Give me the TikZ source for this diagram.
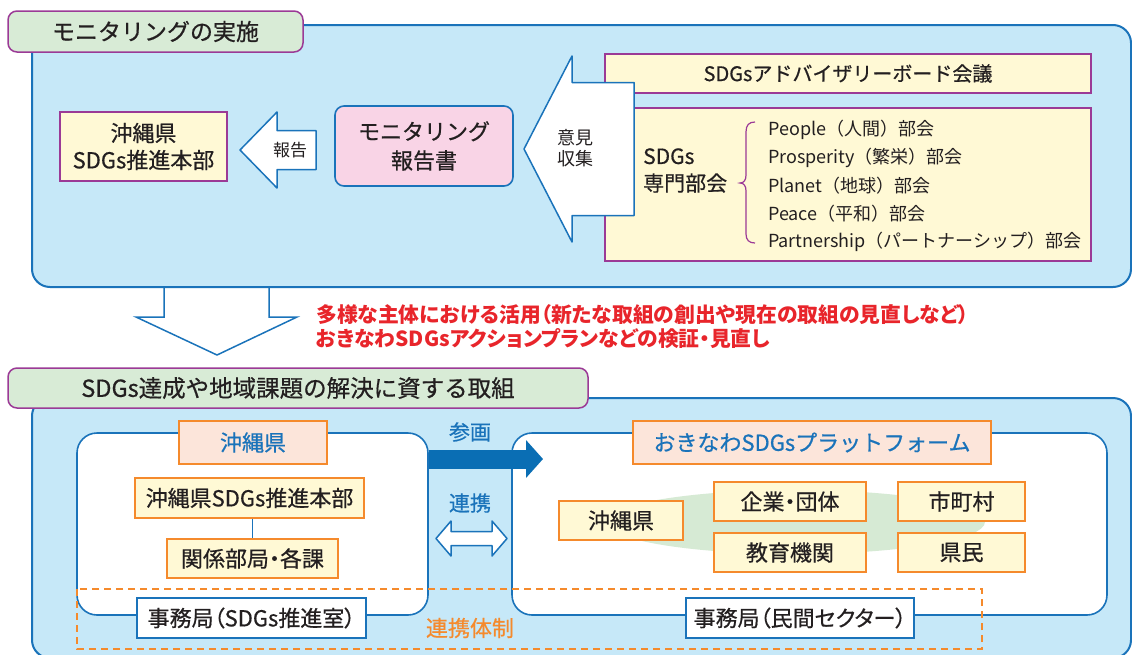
\documentclass[tikz,border=0pt]{standalone}
\usepackage{fontspec}
\setmainfont{Noto Sans CJK JP}
\newfontfamily\jpp[RawFeature=+palt]{Noto Sans CJK JP}
\newfontfamily\med[FakeBold=0.6]{Noto Sans CJK JP}
\newfontfamily\medp[FakeBold=0.6,RawFeature=+palt]{Noto Sans CJK JP}
\usetikzlibrary{arrows.meta}
\newcommand{\fz}[2]{\fontsize{#1}{#2}\selectfont}
\definecolor{panelbg}{HTML}{C6E8F8}
\definecolor{pblue}{HTML}{1A73BA}
\definecolor{dblue}{HTML}{0A6EB4}
\definecolor{ppurple}{HTML}{9B3A96}
\definecolor{tabgreen}{HTML}{D8EBD6}
\definecolor{lyellow}{HTML}{FFF9D5}
\definecolor{lpink}{HTML}{F9D4E6}
\definecolor{salmon}{HTML}{FCE5DA}
\definecolor{orng}{HTML}{F58A2C}
\definecolor{txt}{HTML}{231F20}
\definecolor{redtxt}{HTML}{E8252B}
\definecolor{leafgreen}{HTML}{D6EAD4}
\tikzset{
  panel/.style={draw=pblue, line width=2pt, fill=panelbg, rounded corners=18pt, inner sep=0pt},
  tab/.style={draw=ppurple, line width=1.5pt, fill=tabgreen, rounded corners=9pt, text=txt, inner sep=0pt},
  pbox/.style={draw=ppurple, line width=1.2pt, fill=lyellow, text=txt, inner sep=0pt, align=center},
  obox/.style={draw=orng, line width=1.3pt, fill=lyellow, text=txt, inner sep=0pt, font=\medp\fz{22}{26}},
  tbox/.style={draw=orng, line width=1.3pt, fill=salmon, text=pblue, inner sep=0pt, font=\med\fz{22}{26}},
  wbox/.style={draw=pblue, line width=1.6pt, fill=white, rounded corners=20pt, inner sep=0pt},
  sbox/.style={draw=pblue, line width=1.5pt, fill=white, text=txt, inner sep=0pt, font=\medp\fz{22}{26}},
  blockarrow/.style={draw=pblue, line width=1.5pt, fill=white, line join=round},
  lbl/.style={text=txt, inner sep=0pt},
  bluelbl/.style={text=pblue, inner sep=0pt, font=\med\fz{21}{25}},
  item/.style={text=txt, inner sep=0pt, anchor=west, font=\fz{18}{22}},
}
\begin{document}
\begin{tikzpicture}[x=1pt,y=-1pt]
\useasboundingbox (0,0) rectangle (1132,654);
% ---------------- top panel ----------------
\node[panel, minimum width=1099pt, minimum height=262pt] (toppanel) at (581.5,156) {};
\node[tab, minimum width=295pt, minimum height=41pt, font=\med\fz{23}{27}] (tab1) at (155.5,31.5) {モニタリングの実施};
\node[pbox, minimum width=486pt, minimum height=39pt, font=\med\fz{20}{24}] (board) at (848,73.5) {SDGsアドバイザリーボード会議};
\node[pbox, minimum width=486pt, minimum height=153pt] (bukai) at (848,184.5) {};
% opinion collection arrow
\draw[blockarrow] (524,149) -- (572,56) -- (572,82.5) -- (634,82.5) -- (634,215.5) -- (572,215.5) -- (572,242) -- cycle;
\node[lbl, align=center, font=\fz{18}{21}] (iken) at (575,148) {意見\\収集};
\node[lbl, anchor=west, align=left, font=\med\fz{21}{27}] (bukaititle) at (643,170.5) {SDGs\\専門部会};
\draw[ppurple, line width=1.2pt] (755,122) .. controls (749,122) and (746,125) .. (746,132) -- (746,175) .. controls (746,180) and (744,183) .. (740,183) .. controls (744,183) and (746,186) .. (746,191) -- (746,234) .. controls (746,240) and (749,243) .. (755,243);
\node[item] (i1) at (768,130) {People（人間）部会};
\node[item] (i2) at (768,158) {Prosperity（繁栄）部会};
\node[item] (i3) at (768,186) {Planet（地球）部会};
\node[item] (i4) at (768,214) {Peace（平和）部会};
\node[item] (i5) at (768,242) {Partnership（パートナーシップ）部会};
% report box
\node[draw=pblue, line width=1.6pt, fill=lpink, rounded corners=9pt, text=txt, inner sep=0pt, align=center, font=\med\fz{22}{29}, minimum width=178pt, minimum height=80pt] (report) at (424,146) {モニタリング\\報告書};
% report arrow
\draw[blockarrow] (240,150) -- (277,112) -- (277,130.5) -- (316,130.5) -- (316,169.5) -- (277,169.5) -- (277,188) -- cycle;
\node[lbl, font=\fz{17}{20}] (hokoku) at (290,150) {報告};
\node[pbox, minimum width=167pt, minimum height=69pt, font=\med\fz{22}{27}] (honbu1) at (143.5,146.5) {沖縄県\\SDGs推進本部};
% ---------------- middle ----------------
\draw[pblue, line width=1.5pt, line join=miter] (164,288) -- (164,317) -- (136,317) -- (217,355) -- (297,317) -- (269,317) -- (269,288);
\node[anchor=west, align=left, inner sep=0pt, text=redtxt, font=\jpp\bfseries\fz{20.8}{23.5}] (redtext) at (316,326.5) {多様な主体における活用（新たな取組の創出や現在の取組の見直しなど）\\おきなわSDGsアクションプランなどの検証・見直し};
% ---------------- bottom panel ----------------
\node[panel, minimum width=1099pt, minimum height=260pt] (botpanel) at (581.5,528) {};
\node[tab, minimum width=580pt, minimum height=40pt, font=\med\fz{23.5}{27}] (tab2) at (298,388) {SDGs達成や地域課題の解決に資する取組};
\node[wbox, minimum width=351pt, minimum height=182pt] (lbox) at (252.5,524) {};
\node[wbox, minimum width=595pt, minimum height=182pt] (rbox) at (809.5,524) {};
\draw[orng, line width=2.2pt, dash pattern=on 7pt off 5pt] (77,589) rectangle (982,649);
% left group
\node[tbox, minimum width=148pt, minimum height=43pt] (okiT) at (253,442.5) {沖縄県};
\node[obox, minimum width=229pt, minimum height=40pt] (honbu2) at (249.5,498) {沖縄県SDGs推進本部};
\node[obox, minimum width=171pt, minimum height=39pt] (kankei) at (252.5,558.5) {関係部局・各課};
\draw[pblue, line width=1.6pt] (honbu2.south -| kankei.north) -- (kankei.north);
\node[sbox, minimum width=229pt, minimum height=40pt] (jimu1) at (251.5,618) {事務局（SDGs推進室）};
% right group
\fill[leafgreen] (795,522) ellipse [x radius=190, y radius=32];
\node[tbox, minimum width=358pt, minimum height=43pt] (platT) at (812,442.5) {おきなわSDGsプラットフォーム};
\node[obox, minimum width=124pt, minimum height=39pt] (oki2) at (621,520.5) {沖縄県};
\node[obox, minimum width=152pt, minimum height=39pt] (kigyo) at (790,501.5) {企業・団体};
\node[obox, minimum width=152pt, minimum height=39pt] (kyoiku) at (790,552.5) {教育機関};
\node[obox, minimum width=127pt, minimum height=39pt] (shicho) at (961.5,501.5) {市町村};
\node[obox, minimum width=127pt, minimum height=39pt] (kenmin) at (961.5,552.5) {県民};
\node[sbox, minimum width=228pt, minimum height=40pt] (jimu2) at (800,618) {事務局（民間セクター）};
% connectors between groups
\coordinate (sktip) at (543,459);
\draw[dblue, line width=19pt, -{Triangle[length=17pt,width=37pt]}] (lbox.east |- sktip) -- (sktip);
\node[bluelbl] (sankaku) at (470,432) {参画};
\node[bluelbl] (renkei) at (470,503) {連携};
\draw[blockarrow] (436,538.5) -- (451,521) -- (451,531.5) -- (492,531.5) -- (492,521) -- (507,538.5) -- (492,556) -- (492,545.5) -- (451,545.5) -- (451,556) -- cycle;
\node[inner sep=0pt, text=orng, font=\med\fz{22}{26}] (renkeitai) at (470,628) {連携体制};
\end{tikzpicture}
\end{document}
